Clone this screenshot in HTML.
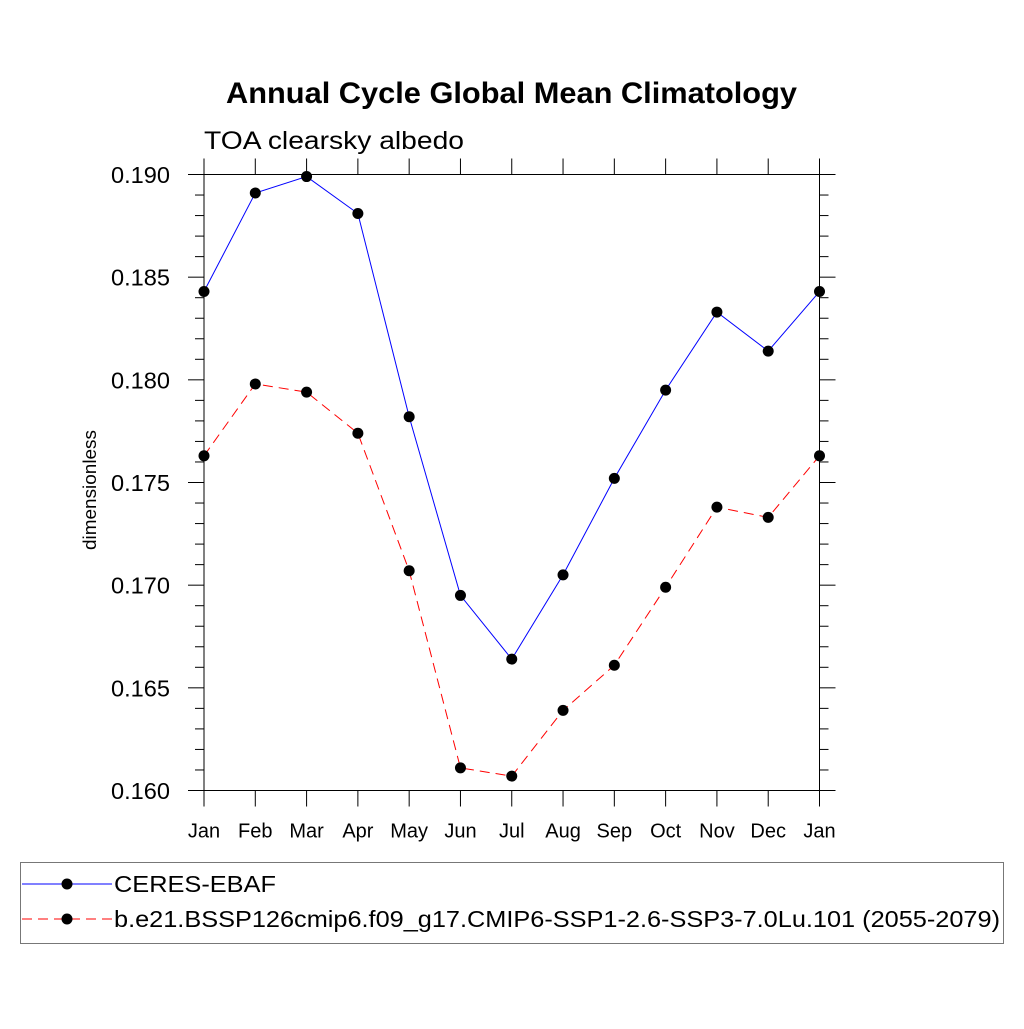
<!DOCTYPE html>
<html><head><meta charset="utf-8"><style>
body{margin:0;background:#fff}
svg text{font-family:"Liberation Sans",Arial,sans-serif;fill:#000}
</style></head><body>
<svg id="chart" width="1024" height="1024" xmlns="http://www.w3.org/2000/svg">
<rect width="1024" height="1024" fill="#fff"/>
<text x="226" y="103" font-size="30" font-weight="bold" textLength="571" lengthAdjust="spacingAndGlyphs">Annual Cycle Global Mean Climatology</text>
<text x="204" y="149" font-size="25" textLength="260" lengthAdjust="spacingAndGlyphs">TOA clearsky albedo</text>
<text transform="translate(96,490) rotate(-90)" font-size="18" textLength="120" lengthAdjust="spacingAndGlyphs" x="-60">dimensionless</text>
<g id="axes"></g><g id="series"></g>
<g>
<rect x="20.5" y="862.5" width="983" height="81" fill="none" stroke="#777" stroke-width="1"/>
<line x1="22" y1="884" x2="112" y2="884" stroke="#0000ff" stroke-width="1"/>
<circle cx="67" cy="884" r="5.5" fill="#000"/>
<text x="114" y="892" font-size="23" textLength="162" lengthAdjust="spacingAndGlyphs">CERES-EBAF</text>
<line x1="22" y1="919" x2="112" y2="919" stroke="#ff0000" stroke-width="1" stroke-dasharray="10,6"/>
<circle cx="67" cy="919" r="5.5" fill="#000"/>
<text x="114" y="927" font-size="23" textLength="886" lengthAdjust="spacingAndGlyphs">b.e21.BSSP126cmip6.f09_g17.CMIP6-SSP1-2.6-SSP3-7.0Lu.101 (2055-2079)</text>
</g>
</svg>
<script>
const months=["Jan","Feb","Mar","Apr","May","Jun","Jul","Aug","Sep","Oct","Nov","Dec","Jan"];
const ceres=[0.1843,0.1891,0.1899,0.1881,0.1782,0.1695,0.1664,0.1705,0.1752,0.1795,0.1833,0.1814,0.1843];
const model=[0.1763,0.1798,0.1794,0.1774,0.1707,0.1611,0.1607,0.1639,0.1661,0.1699,0.1738,0.1733,0.1763];
const yTicks=[0.160,0.165,0.170,0.175,0.180,0.185,0.190];
const L=204,R=819.5,T=174.5,B=790.5,ymin=0.160,ymax=0.190;
const NS="http://www.w3.org/2000/svg";
const X=i=>L+(R-L)*i/(months.length-1);
const Y=v=>B-(v-ymin)/(ymax-ymin)*(B-T);
function mk(tag,attrs,parent){const e=document.createElementNS(NS,tag);for(const k in attrs)e.setAttribute(k,attrs[k]);parent.appendChild(e);return e;}
const ax=document.getElementById('axes');
const frame=mk('rect',{x:L,y:T,width:R-L,height:B-T,fill:'none',stroke:'#000','stroke-width':1},ax);


months.forEach((m,i)=>{
 const x=X(i);
 mk('line',{x1:x,y1:B,x2:x,y2:B+16,stroke:'#000'},ax);
 mk('line',{x1:x,y1:T,x2:x,y2:T-16,stroke:'#000'},ax);
 const t=mk('text',{x:x,y:B+47,'font-size':20,'text-anchor':'middle'},ax);t.textContent=m;
 
 
});
for(let k=0;k<=30;k++){
 const v=ymin+k*0.001,y=Y(v),major=k%5===0,len=major?16:9;
 mk('line',{x1:L,y1:y,x2:L-len,y2:y,stroke:'#000'},ax);
 mk('line',{x1:R,y1:y,x2:R+len,y2:y,stroke:'#000'},ax);
}
yTicks.forEach(v=>{
 const t=mk('text',{x:111,y:Y(v)+8.5,'font-size':23,textLength:59,lengthAdjust:'spacingAndGlyphs'},ax);t.textContent=v.toFixed(3);
 
 
});
const sg=document.getElementById('series');
function draw(data,color,dash,name){
 const p=mk('polyline',{points:data.map((v,i)=>X(i)+','+Y(v)).join(' '),fill:'none',stroke:color,'stroke-width':1,'stroke-dasharray':dash},sg);
 
 
 data.forEach((v,i)=>{
  const c=mk('circle',{cx:X(i),cy:Y(v),r:5.5,fill:'#000'},sg);
  
  
 });
}
draw(ceres,'#0000ff','none','ceres');
draw(model,'#ff0000','10,6','model');
</script>
</body></html>
